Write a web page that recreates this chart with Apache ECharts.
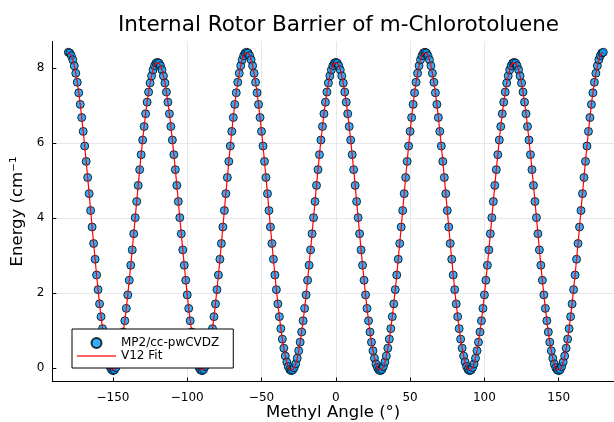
<!DOCTYPE html>
<html>
<head>
<meta charset="utf-8">
<script src="https://cdn.jsdelivr.net/npm/echarts@6/dist/echarts.min.js"></script>
<style>
html,body{margin:0;padding:0;background:#fff;}
#chart{width:614px;height:422px;}
</style>
</head>
<body>
<div id="chart"></div>
<script>
const titleText = 'Internal Rotor Barrier of m-Chlorotoluene';
const xAxisTitle = 'Methyl Angle (°)';
const yAxisTitle = 'Energy (cm\u207B\u00B9';
const seriesNames = ['MP2/cc-pwCVDZ', 'V12 Fit'];
const xTicks = [-150, -100, -50, 0, 50, 100, 150];
const yTicks = [0, 2, 4, 6, 8];

const angles = [
-180,-179,-178,-177,-176,-175,-174,-173,-172,-171,-170,-169,-168,-167,-166,-165,-164,-163,-162,-161,
-160,-159,-158,-157,-156,-155,-154,-153,-152,-151,-150,-149,-148,-147,-146,-145,-144,-143,-142,-141,
-140,-139,-138,-137,-136,-135,-134,-133,-132,-131,-130,-129,-128,-127,-126,-125,-124,-123,-122,-121,
-120,-119,-118,-117,-116,-115,-114,-113,-112,-111,-110,-109,-108,-107,-106,-105,-104,-103,-102,-101,
-100,-99,-98,-97,-96,-95,-94,-93,-92,-91,-90,-89,-88,-87,-86,-85,-84,-83,-82,-81,
-80,-79,-78,-77,-76,-75,-74,-73,-72,-71,-70,-69,-68,-67,-66,-65,-64,-63,-62,-61,
-60,-59,-58,-57,-56,-55,-54,-53,-52,-51,-50,-49,-48,-47,-46,-45,-44,-43,-42,-41,
-40,-39,-38,-37,-36,-35,-34,-33,-32,-31,-30,-29,-28,-27,-26,-25,-24,-23,-22,-21,
-20,-19,-18,-17,-16,-15,-14,-13,-12,-11,-10,-9,-8,-7,-6,-5,-4,-3,-2,-1,
0,1,2,3,4,5,6,7,8,9,10,11,12,13,14,15,16,17,18,19,
20,21,22,23,24,25,26,27,28,29,30,31,32,33,34,35,36,37,38,39,
40,41,42,43,44,45,46,47,48,49,50,51,52,53,54,55,56,57,58,59,
60,61,62,63,64,65,66,67,68,69,70,71,72,73,74,75,76,77,78,79,
80,81,82,83,84,85,86,87,88,89,90,91,92,93,94,95,96,97,98,99,
100,101,102,103,104,105,106,107,108,109,110,111,112,113,114,115,116,117,118,119,
120,121,122,123,124,125,126,127,128,129,130,131,132,133,134,135,136,137,138,139,
140,141,142,143,144,145,146,147,148,149,150,151,152,153,154,155,156,157,158,159,
160,161,162,163,164,165,166,167,168,169,170,171,172,173,174,175,176,177,178,179,
180
];

const energy = [
// -180 .. -120
8.42,8.40,8.33,8.22,8.06,7.86,7.62,7.34,7.03,6.68,6.31,5.92,5.51,5.08,4.65,4.20,3.76,3.32,2.90,2.48,2.09,1.71,1.37,1.05,0.77,0.53,0.32,0.16,0.04,-0.04,-0.07,-0.05,0.01,0.11,0.26,0.46,0.69,0.96,1.26,1.59,1.95,2.34,2.74,3.15,3.58,4.01,4.44,4.87,5.29,5.69,6.08,6.44,6.78,7.09,7.36,7.60,7.79,7.95,8.06,8.13,8.15,
// -119 .. -60
8.13,8.06,7.95,7.79,7.60,7.36,7.09,6.78,6.44,6.08,5.69,5.29,4.87,4.44,4.01,3.58,3.15,2.74,2.34,1.95,1.59,1.26,0.96,0.69,0.46,0.26,0.11,0.01,-0.05,-0.07,-0.04,0.04,0.16,0.32,0.53,0.77,1.05,1.37,1.71,2.09,2.48,2.90,3.32,3.76,4.20,4.65,5.08,5.51,5.92,6.31,6.68,7.03,7.34,7.62,7.86,8.06,8.22,8.33,8.40,8.42,
// -59 .. 0
8.40,8.33,8.22,8.06,7.86,7.62,7.34,7.03,6.68,6.31,5.92,5.51,5.08,4.65,4.20,3.76,3.32,2.90,2.48,2.09,1.71,1.37,1.05,0.77,0.53,0.32,0.16,0.04,-0.04,-0.07,-0.05,0.01,0.11,0.26,0.46,0.69,0.96,1.26,1.59,1.95,2.34,2.74,3.15,3.58,4.01,4.44,4.87,5.29,5.69,6.08,6.44,6.78,7.09,7.36,7.60,7.79,7.95,8.06,8.13,8.15,
// 1 .. 60
8.13,8.06,7.95,7.79,7.60,7.36,7.09,6.78,6.44,6.08,5.69,5.29,4.87,4.44,4.01,3.58,3.15,2.74,2.34,1.95,1.59,1.26,0.96,0.69,0.46,0.26,0.11,0.01,-0.05,-0.07,-0.04,0.04,0.16,0.32,0.53,0.77,1.05,1.37,1.71,2.09,2.48,2.90,3.32,3.76,4.20,4.65,5.08,5.51,5.92,6.31,6.68,7.03,7.34,7.62,7.86,8.06,8.22,8.33,8.40,8.42,
// 61 .. 120
8.40,8.33,8.22,8.06,7.86,7.62,7.34,7.03,6.68,6.31,5.92,5.51,5.08,4.65,4.20,3.76,3.32,2.90,2.48,2.09,1.71,1.37,1.05,0.77,0.53,0.32,0.16,0.04,-0.04,-0.07,-0.05,0.01,0.11,0.26,0.46,0.69,0.96,1.26,1.59,1.95,2.34,2.74,3.15,3.58,4.01,4.44,4.87,5.29,5.69,6.08,6.44,6.78,7.09,7.36,7.60,7.79,7.95,8.06,8.13,8.15,
// 121 .. 180
8.13,8.06,7.95,7.79,7.60,7.36,7.09,6.78,6.44,6.08,5.69,5.29,4.87,4.44,4.01,3.58,3.15,2.74,2.34,1.95,1.59,1.26,0.96,0.69,0.46,0.26,0.11,0.01,-0.05,-0.07,-0.04,0.04,0.16,0.32,0.53,0.77,1.05,1.37,1.71,2.09,2.48,2.90,3.32,3.76,4.20,4.65,5.08,5.51,5.92,6.31,6.68,7.03,7.34,7.62,7.86,8.06,8.22,8.33,8.40,8.42
];

const points = angles.map((a, i) => [a, energy[i]]);
const FONT = 'DejaVu Sans';
const fmt = v => String(v).replace('-', '\u2212');

const chart = echarts.init(document.getElementById('chart'), null, {renderer: 'canvas'});
chart.setOption({
  animation: false,
  backgroundColor: '#ffffff',
  textStyle: {fontFamily: FONT},
  title: {
    text: titleText,
    left: 113, top: 9,
    textStyle: {fontFamily: FONT, fontSize: 21.5, fontWeight: 'normal', color: '#000'}
  },
  grid: {left: 52.3, right: 0, top: 41.4, bottom: 40.5, containLabel: false, outerBoundsMode: 'none'},
  legend: {
    orient: 'vertical',
    left: 72, top: 329,
    padding: [8, 14, 6, 5],
    itemGap: 1,
    itemWidth: 39, itemHeight: 10,
    symbolKeepAspect: true,
    backgroundColor: '#fff',
    borderColor: '#000', borderWidth: 1, borderRadius: 0,
    textStyle: {fontFamily: FONT, fontSize: 12, color: '#000'},
    data: [
      {name: seriesNames[0], icon: 'circle'},
      {name: seriesNames[1], icon: 'path://M0,0 L40,0 L40,1.3 L0,1.3 Z', itemStyle: {color: '#ff3030'}}
    ]
  },
  xAxis: {
    type: 'value', min: -190.8, max: 187.2, splitNumber: 8,
    name: xAxisTitle, nameLocation: 'middle', nameGap: 23, nameMoveOverlap: false,
    nameTextStyle: {fontFamily: FONT, fontSize: 16.5, color: '#000'},
    axisLine: {show: true, onZero: false, lineStyle: {color: '#000', width: 1}},
    axisTick: {show: true, inside: true, length: 4, customValues: xTicks, lineStyle: {color: '#000'}},
    axisLabel: {customValues: xTicks, formatter: fmt, fontFamily: FONT, fontSize: 12, color: '#000', margin: 10},
    splitLine: {show: true, showMinLine: false, showMaxLine: false, lineStyle: {color: '#e8e8e8', width: 1}}
  },
  yAxis: {
    type: 'value', min: -0.36, max: 8.71, splitNumber: 5,
    name: yAxisTitle, nameLocation: 'middle', nameGap: 26, nameMoveOverlap: false,
    nameTextStyle: {fontFamily: FONT, fontSize: 16.5, color: '#000'},
    axisLine: {show: true, onZero: false, lineStyle: {color: '#000', width: 1}},
    axisTick: {show: true, inside: true, length: 4, customValues: yTicks, lineStyle: {color: '#000'}},
    axisLabel: {customValues: yTicks, formatter: fmt, fontFamily: FONT, fontSize: 12, color: '#000', margin: 8},
    splitLine: {show: true, showMinLine: false, showMaxLine: false, lineStyle: {color: '#e8e8e8', width: 1}}
  },
  series: [
    {
      name: seriesNames[0], type: 'scatter', data: points,
      symbol: 'circle', symbolSize: 8,
      itemStyle: {color: '#009afa', borderColor: '#000', borderWidth: 1}
    },
    {
      name: seriesNames[1], type: 'line', data: points,
      symbol: 'none', smooth: false,
      lineStyle: {color: '#ff0000', width: 1.2},
      itemStyle: {color: '#ff0000'}
    }
  ]
});
</script>
</body>
</html>
